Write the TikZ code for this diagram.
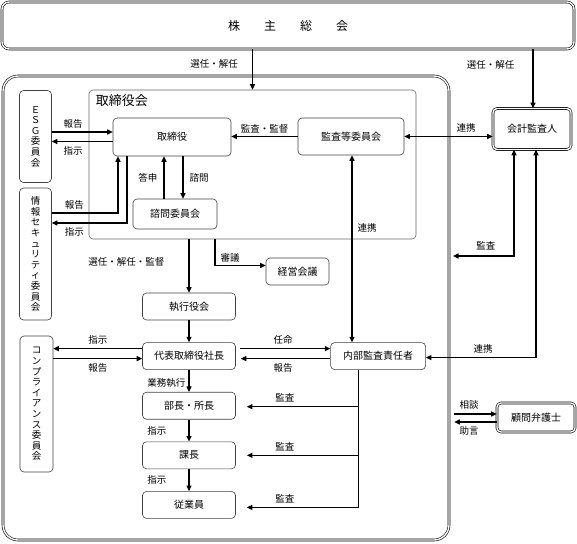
\documentclass[tikz,border=0pt]{standalone}
\usepackage{fontspec}
\setmainfont{Noto Sans CJK JP}
\usetikzlibrary{arrows.meta,positioning}

\begin{document}
\begin{tikzpicture}[
  x=1pt, y=-1pt,
  node distance=22pt,
  box/.style={draw=black!75, line width=0.6pt, rounded corners=4pt, inner sep=0pt, align=center,
    font=\fontsize{10}{12}\selectfont, minimum width=93pt, minimum height=27pt},
  dbox/.style={box, draw=black, double, double distance=1.4pt},
  vbox/.style={box, minimum width=32pt, font=\fontsize{9.5}{10.6}\selectfont},
  lbl/.style={font=\fontsize{9.5}{11}\selectfont, inner sep=0pt},
  arrow/.style={-{Triangle[length=5.5pt,width=5pt]}, line width=1.1pt},
  darrow/.style={{Triangle[length=5.5pt,width=5pt]}-{Triangle[length=5.5pt,width=5pt]}, line width=1.1pt}
]
\useasboundingbox (0,0) rectangle (577,543);

% frames
\node[dbox, minimum width=572pt, minimum height=47pt, rounded corners=7pt,
  font=\fontsize{12}{14}\selectfont] (soukai) at (288,25.5) {株\hspace{2em}主\hspace{2em}総\hspace{2em}会};
\node[dbox, minimum width=446pt, minimum height=464pt, rounded corners=15pt] (exec) at (226,308) {};
\node[box, draw=black!60, minimum width=327pt, minimum height=149pt] (board) at (252.5,164.5) {};
\node[anchor=north west, inner sep=0pt, font=\fontsize{13}{15}\selectfont] (boardlbl)
  at ([shift={(7pt,-5pt)}]board.north west) {取締役会};

% committees on the left
\node[vbox, minimum height=92pt] (esg) at (35.5,136.5) {Ｅ\\Ｓ\\Ｇ\\委\\員\\会};
\node[vbox, minimum height=132pt] (joho) at (35.5,254) {情\\報\\セ\\キ\\ュ\\リ\\テ\\ィ\\委\\員\\会};
\node[vbox, minimum width=33pt, minimum height=136pt] (comp) at (36.5,404) {コ\\ン\\プ\\ラ\\イ\\ア\\ン\\ス\\委\\員\\会};

% board and committees
\node[box, minimum width=118pt, minimum height=38pt] (torishimari) at (172,137) {取締役};
\node[box, minimum width=106pt, minimum height=37pt] (kansa) at (351,136.5) {監査等委員会};
\node[box, minimum width=84pt, minimum height=30pt] (shimon) at (175,214) {諮問委員会};
\node[box, minimum width=63pt] (keiei) at (297.5,271.5) {経営会議};

% execution line
\node[box] (shikkou) at (189,306.5) {執行役会};
\node[box, below=of shikkou] (shachou) {代表取締役社長};
\node[box, below=of shachou] (buchou) {部長・所長};
\node[box, below=of buchou] (kachou) {課長};
\node[box, below=of kachou] (juugyou) {従業員};
\node[box, minimum width=95pt, right=94.5pt of shachou] (naibu) {内部監査責任者};

% outside
\node[dbox, minimum width=78pt, minimum height=41pt] (kaikei) at (532,129) {会計監査人};
\node[dbox, minimum width=78pt, minimum height=29pt] (bengoshi) at (536,417.5) {顧問弁護士};
\coordinate (auditend) at (453,256);
\coordinate (lawin) at ([xshift=5pt]exec.east |- bengoshi.west);

% shareholders
\draw[arrow] (board.north |- soukai.south) -- node[lbl, pos=0.35, left=14pt] {選任・解任} (board.north);
\draw[arrow] ([xshift=1pt]kaikei.north |- soukai.south) -- node[lbl, pos=0.27, left=18pt] {選任・解任} ([xshift=1pt]kaikei.north);

% ESG / info security
\draw[arrow] ([yshift=4.5pt]esg.east) -- node[lbl, above=3pt, pos=0.35] {報告} ([yshift=4.5pt]esg.east -| torishimari.west);
\draw[arrow] ([yshift=-5pt]esg.east -| torishimari.west) -- node[lbl, below=4pt, pos=0.65] {指示} ([yshift=-5pt]esg.east);
\draw[arrow] ([yshift=41pt]joho.east) -| node[lbl, above=3pt, pos=0.17] {報告} ([xshift=-54pt]torishimari.south);
\draw[arrow] ([xshift=-45pt]torishimari.south) |- node[lbl, below=4pt, pos=0.85] {指示} ([yshift=31pt]joho.east);

% inside the board
\draw[arrow] ([xshift=-11pt]shimon.north) -- node[lbl, left=6pt] {答申} ([xshift=-11pt]shimon.north |- torishimari.south);
\draw[arrow] ([xshift=8pt]shimon.north |- torishimari.south) -- node[lbl, right=6pt] {諮問} ([xshift=8pt]shimon.north);
\draw[arrow] (kansa.west) -- node[lbl, above=3pt] {監査・監督} (kansa.west -| torishimari.east);
\draw[darrow] (kansa.east) -- node[lbl, above=4pt, pos=0.7] {連携} (kansa.east -| kaikei.west);
\draw[darrow] ([xshift=1pt]kansa.south) -- node[lbl, right=5pt, pos=0.39] {連携} ([xshift=1pt]kansa.south |- naibu.north);

% board to execution
\draw[arrow] (board.south -| shikkou.north) -- node[lbl, left=24pt, pos=0.43] {選任・解任・監督} (shikkou.north);
\draw[arrow] ([xshift=26pt]board.south -| shikkou.north) |- node[lbl, above=3pt, pos=0.65] {審議} ([yshift=6pt]keiei.west);
\draw[arrow] (shikkou) -- (shachou);

% president
\draw[arrow] ([yshift=7.5pt]shachou.west) -- node[lbl, above=4pt] {指示} ([yshift=7.5pt]shachou.west -| comp.east);
\draw[arrow] ([yshift=-2.5pt]shachou.west -| comp.east) -- node[lbl, below=4pt] {報告} ([yshift=-2.5pt]shachou.west);
\draw[arrow, shorten <=4pt] ([yshift=7.5pt]shachou.east) -- node[lbl, above=4pt] {任命} ([yshift=7.5pt]naibu.west);
\draw[arrow, shorten >=5pt] ([yshift=-2.5pt]naibu.west) -- node[lbl, below=4pt] {報告} ([yshift=-2.5pt]shachou.east);

\draw[arrow] (shachou) -- node[lbl, left=3pt, pos=0.6] {業務執行} (buchou);
\draw[arrow] (buchou) -- node[lbl, left=22pt] {指示} (kachou);
\draw[arrow] (kachou) -- node[lbl, left=22pt] {指示} (juugyou);

% internal audit
\draw[arrow, shorten >=11pt] ([xshift=-19.5pt]naibu.south) |- node[lbl, above=4pt, pos=0.8] {監査} ([yshift=-1pt]buchou.east);
\draw[arrow, shorten >=11pt] ([xshift=-19.5pt]naibu.south) |- node[lbl, above=4pt, pos=0.8] {監査} (kachou.east);
\draw[arrow, shorten >=11pt] ([xshift=-19.5pt]naibu.south) |- node[lbl, above=4pt, pos=0.8] {監査} ([yshift=-2.5pt]juugyou.east);

% accounting auditor
\draw[darrow] ([xshift=-18pt]kaikei.south) |- node[lbl, above=5pt, pos=0.73] {監査} (auditend);
\draw[darrow] ([xshift=4pt]kaikei.south) |- node[lbl, above=4pt, pos=0.74] {連携} ([yshift=-1.5pt]naibu.east);

% lawyer
\draw[arrow] ([yshift=3.5pt]lawin) -- node[lbl, above=4pt, pos=0.35] {相談} ([yshift=3.5pt]bengoshi.west);
\draw[arrow] ([yshift=-4.5pt]bengoshi.west) -- node[lbl, below=4pt, pos=0.65] {助言} ([yshift=-4.5pt]lawin);
\end{tikzpicture}
\end{document}
